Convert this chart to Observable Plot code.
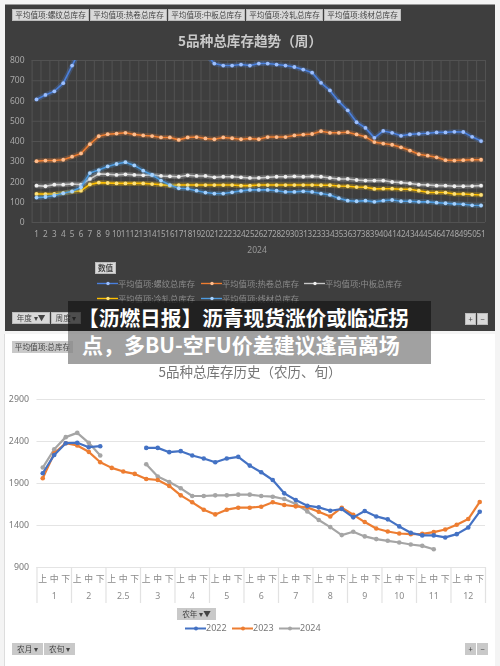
<!DOCTYPE html>
<html><head><meta charset="utf-8">
<script src="https://cdn.jsdelivr.net/npm/d3@7"></script>
<script src="https://cdn.jsdelivr.net/npm/@observablehq/plot@0.6"></script>
<style>
html,body{margin:0;padding:0;background:#f4f4f4;}
#page{position:relative;width:500px;height:666px;overflow:hidden;font-family:"Noto Sans CJK SC","Noto Sans",sans-serif;}
.abs{position:absolute;}
#p1{left:5px;top:4px;width:490px;height:327px;background:#3e3e3e;border-top:1px solid #999;box-sizing:border-box;}
#p2{left:4px;top:334px;width:491px;height:332px;background:#fff;border-left:1px solid #ddd;box-sizing:border-box;}
.btn{position:absolute;height:12px;line-height:12px;font-size:7.6px;text-align:center;white-space:nowrap;color:#444;background:#d9d9d9;box-shadow:inset 0 0 0 1px #bbb;}
.btn.g{background:#c9c9c9;box-shadow:none;}
.t{position:absolute;white-space:nowrap;}
.soft{filter:blur(.35px);}
#b1,#b2{position:absolute;left:68px;width:363px;color:#fff;font-weight:700;white-space:nowrap;box-sizing:border-box;}
#b1{top:301px;height:30px;background:rgba(22,22,22,.72);padding-left:10px;font-size:20.7px;line-height:33px;}
#b2{top:331px;height:33px;background:rgba(130,130,130,.75);padding-left:14px;font-size:21px;line-height:26px;}
</style></head>
<body><div id="page"></div>
<script>
// --- top chart: weekly inventories, 2024 ---
const weeks = d3.range(1, 52);
const rebar = [608,630,648,688,775,860,null,null,null,null,null,null,null,null,null,null,null,null,null,835,785,775,775,780,775,785,785,780,775,768,755,740,690,652,598,554,495,467,418,452,443,428,435,438,441,445,445,448,447,423,402];
const hrc = [303,306,306,310,325,341,387,426,436,439,443,435,430,427,420,420,408,420,422,415,411,420,416,411,415,411,422,422,422,430,434,437,451,443,443,446,435,423,397,390,384,371,355,337,330,322,308,306,308,310,310];
const plate = [182,179,187,187,190,187,215,240,238,235,238,235,233,235,230,228,226,233,230,230,223,226,226,223,220,220,223,226,226,228,226,228,226,220,215,215,210,207,207,207,200,197,193,187,185,182,182,179,179,180,182];
const cold = [141,140,141,146,152,157,188,197,195,193,193,193,193,190,187,182,185,185,185,185,185,185,185,182,182,185,185,185,185,185,185,185,184,184,180,179,175,174,166,167,167,164,164,157,149,148,148,141,141,138,136];
const wire = [123,126,133,144,154,174,244,259,277,289,298,282,256,235,207,185,169,167,157,148,143,143,149,156,161,161,161,157,151,151,154,151,143,136,120,108,105,108,102,108,111,105,105,102,102,98,95,92,90,85,84];
const topNames = ["平均值项:螺纹总库存","平均值项:热卷总库存","平均值项:中板总库存","平均值项:冷轧总库存","平均值项:线材总库存"];
const topColors = ["#4a80de","#ed7d31","#c8c8c8","#ffc000","#4d9be0"];
const topDots = ["#9dc0ff","#ffbe8e","#f0f0f0","#ffe27a","#a6d2ff"];
const topSeries = [rebar,hrc,plate,cold,wire];
const yTop = [0,100,200,300,400,500,600,700,800];

// --- bottom chart: lunar-calendar ten-day inventories ---
const months = ["1","2","2.5","3","4","5","6","7","8","9","10","11","12"];
const xun = ["上","中","下"];
const y2022 = [2022,2240,2380,2384,2332,2344,null,null,null,2324,2324,2273,2285,2233,2197,2153,2197,2217,2113,2034,1942,1783,1703,1636,1616,1576,1596,1497,1572,1508,1473,1389,1313,1282,1282,1258,1297,1377,1564];
const y2023 = [1962,2260,2380,2352,2277,2153,2086,2042,2014,1954,1942,1871,1759,1676,1588,1532,1588,1612,1612,1624,1676,1644,1628,1616,1564,1508,1612,1528,1441,1365,1329,1305,1297,1301,1321,1353,1409,1477,1680];
const y2024 = [2090,2308,2452,2503,2384,2233,null,null,null,2129,1982,1918,1843,1751,1751,1759,1759,1767,1767,1751,1743,1715,1656,1568,1465,1381,1286,1325,1270,1238,1218,1198,1174,1158,1118,null,null,null,null];
const yearNames = ["2022","2023","2024"];
const yearColors = ["#4472c4","#ed7d31","#a5a5a5"];
const yearSeries = [y2022,y2023,y2024];
const yBottom = [900,1400,1900,2400,2900];

const page = document.getElementById("page");
function el(cls, css, txt){const d=document.createElement("div");d.className=cls;d.style.cssText=css;if(txt!=null)d.textContent=txt;page.appendChild(d);return d;}

el("abs","",null).id="p1";
el("abs","",null).id="p2";

// top chart
const topRows = s => topSeries[s].map((v,i)=>({w:weeks[i],v}));
const topMarks = [
  Plot.ruleX(d3.range(0.5,52),{stroke:"#525252",strokeWidth:1}),
  Plot.ruleY(yTop,{stroke:"#525252",strokeWidth:1}),
  Plot.axisX({ticks:weeks,tickSize:0,tickPadding:9,tickFormat:d=>String(d),fontSize:8.1,fill:"#a8a8a8",label:null}),
  Plot.axisY({ticks:yTop,tickSize:0,tickPadding:7.5,fontSize:8.5,fill:"#a8a8a8",label:null}),
  Plot.text(["2024"],{x:()=>25.8,y:()=>0,dy:28,text:d=>d,fontSize:8.5,fill:"#999"})
];
topSeries.forEach((_,s)=>{
  const rows = topRows(s);
  topMarks.push(Plot.line(rows,{x:"w",y:"v",stroke:topColors[s],strokeWidth:5,strokeOpacity:.28,clip:true}));
  topMarks.push(Plot.line(rows,{x:"w",y:"v",stroke:topColors[s],strokeWidth:1.6,clip:true}));
  topMarks.push(Plot.dot(rows.filter(d=>d.v!=null),{x:"w",y:"v",r:1.9,fill:topDots[s],clip:true}));
});
const topChart = Plot.plot({
  width:500,height:331,marginTop:60,marginBottom:109,marginLeft:31.6,marginRight:15,
  style:{background:"transparent",position:"absolute",left:"0",top:"0",fontFamily:"'Noto Sans',sans-serif",overflow:"visible"},
  x:{type:"linear",domain:[0.5,51.5]},
  y:{domain:[0,800]},
  marks:topMarks
});
const wrap1 = el("abs soft","left:0;top:0;width:500px;height:331px");
wrap1.appendChild(topChart);

el("t soft","left:0;width:500px;text-align:center;top:30px;font-size:13.6px;font-weight:700;color:#c9c9c9","5品种总库存趋势（周）");

// top field buttons
topNames.forEach((n,i)=>el("btn soft",`left:${12+78*i}px;top:9px;width:77px`,n));
el("btn soft","left:95px;top:262px;width:21px;font-weight:700","数值");

// top legend
const legendPos = [[97,283],[201,283],[304,283],[97,298],[201,298]];
topNames.forEach((n,i)=>{
  const [x,y]=legendPos[i];
  const s=Plot.plot({width:21,height:8,axis:null,margin:0,
    style:{background:"transparent",display:"block"},
    x:{domain:[0,1]},y:{domain:[0,1]},
    marks:[Plot.ruleY([0.5],{stroke:topColors[i],strokeWidth:1.4}),Plot.dot([[0.5,0.5]],{r:1.7,fill:topDots[i]})]});
  const w=el("abs soft",`left:${x}px;top:${y-4}px;width:21px;height:8px`);w.appendChild(s);
  el("t soft",`left:${x+21}px;top:${y-7}px;font-size:8.3px;line-height:14px;color:#8c8c8c`,n);
});

// bottom chart
const slots = d3.range(months.length*3);
const groupRows = months.map((m,i)=>({m,x:i*3+1}));
const xunRows = slots.map(i=>({i,t:xun[i%3]}));
const botMarks = [
  Plot.ruleY(yBottom,{stroke:"#e4e4e4",strokeWidth:1.2}),
  Plot.ruleX(d3.range(0,months.length+1).map(i=>i*3-0.5),{y1:()=>900,y2:()=>900,insetBottom:-36,stroke:"#e2e2e2",strokeWidth:1.2}),
  Plot.axisY({ticks:yBottom,tickSize:0,tickPadding:8,tickFormat:d=>String(d),fontSize:8.8,fill:"#777",label:null}),
  Plot.text(xunRows,{x:"i",y:()=>900,dy:12,text:"t",fontSize:8.8,fill:"#8a8a8a",fontFamily:"'Noto Sans CJK SC'"}),
  Plot.text(groupRows,{x:"x",y:()=>900,dy:29,text:"m",fontSize:8.8,fill:"#8a8a8a"})
];
yearSeries.slice().reverse().forEach((ser,k)=>{
  const s=2-k;
  const rows=slots.map(i=>({i,v:ser[i]}));
  botMarks.push(Plot.line(rows,{x:"i",y:"v",stroke:yearColors[s],strokeWidth:2.2}));
  botMarks.push(Plot.dot(rows.filter(d=>d.v!=null),{x:"i",y:"v",r:2.3,fill:yearColors[s]}));
});
const botChart = Plot.plot({
  width:500,height:332,marginTop:65,marginBottom:99,marginLeft:36.5,marginRight:15,
  style:{background:"transparent",position:"absolute",left:"0",top:"0",fontFamily:"'Noto Sans',sans-serif",overflow:"visible"},
  x:{type:"linear",domain:[-0.5,38.5],axis:null},
  y:{domain:[900,2900]},
  marks:botMarks
});
const wrap2 = el("abs soft","left:0;top:334px;width:500px;height:332px");
wrap2.appendChild(botChart);

el("t soft","left:0;width:500px;text-align:center;top:361px;font-size:13.5px;color:#767676","5品种总库存历史（农历、旬）");
el("btn g soft","left:12px;top:341px;width:61px","平均值项:总库存");

// bottom legend
const yearLegend = [185,232,279];
yearNames.forEach((n,i)=>{
  const s=Plot.plot({width:21,height:8,axis:null,margin:0,
    style:{background:"transparent",display:"block"},
    x:{domain:[0,1]},y:{domain:[0,1]},
    marks:[Plot.ruleY([0.5],{stroke:yearColors[i],strokeWidth:2}),Plot.dot([[0.5,0.5]],{r:2,fill:yearColors[i]})]});
  const w=el("abs soft",`left:${yearLegend[i]}px;top:624px;width:21px;height:8px`);w.appendChild(s);
  el("t soft",`left:${yearLegend[i]+21}px;top:621px;font-size:9px;line-height:14px;color:#777;font-family:'Noto Sans'`,n);
});

// filter buttons
const buttons=[
  ["年度 ▾▼",12,312,38,0],["周度 ▾",51,312,30,0],["+",465,313,11,0],["−",477,313,11,0],
  ["农年 ▾▼",177,608,39,1],["农月 ▾",12,643,31,1],["农旬 ▾",44,643,31,1],["+",465,643,11,1],["−",477,643,11,1]
];
buttons.forEach(([t,x,y,w,g])=>el(g?"btn g soft":"btn soft",`left:${x}px;top:${y}px;width:${w}px`,t));

// banner
el("","",null).id="b1"; document.getElementById("b1").textContent="【沥燃日报】沥青现货涨价或临近拐";
el("","",null).id="b2"; document.getElementById("b2").textContent="点，多BU-空FU价差建议逢高离场";
</script></body></html>
